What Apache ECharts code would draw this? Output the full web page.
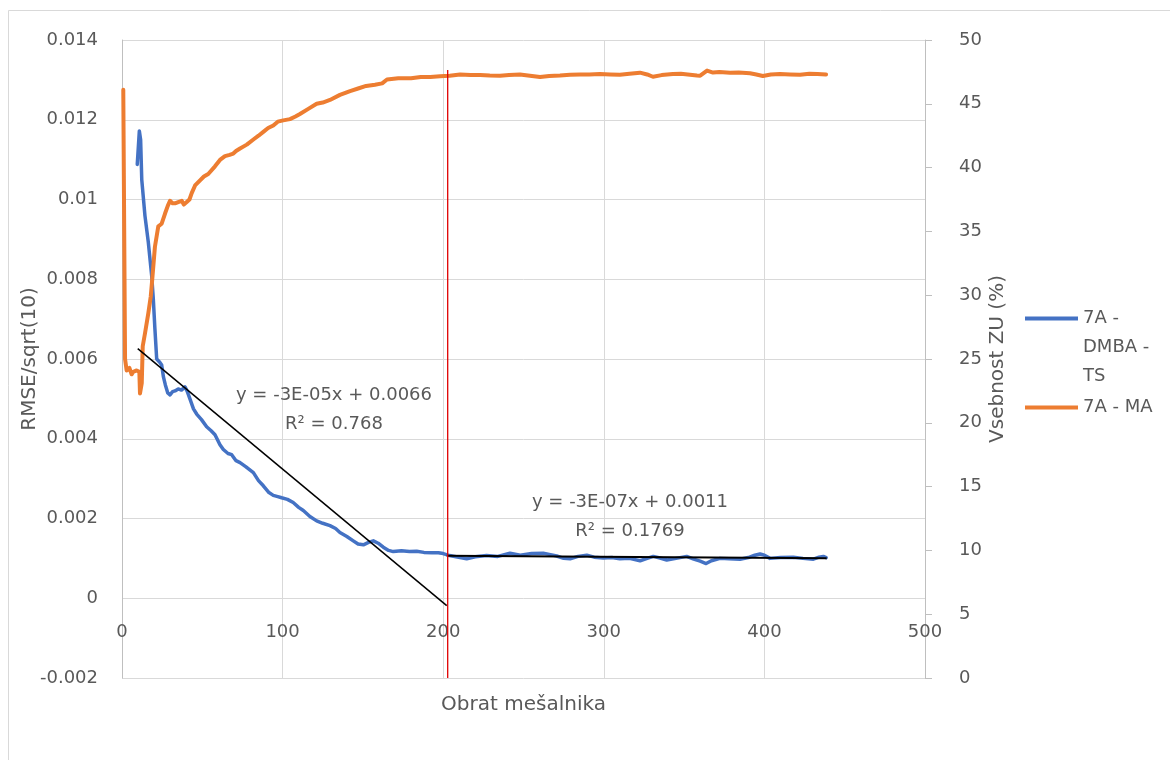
<!DOCTYPE html>
<html>
<head>
<meta charset="utf-8">
<script src="https://cdn.jsdelivr.net/npm/echarts@6/dist/echarts.min.js"></script>
<style>
  html, body { margin: 0; padding: 0; background: #fff; overflow: hidden; }
  #chart { width: 1170px; height: 760px; }
</style>
</head>
<body>
<div id="chart"></div>
<script>
// 7A - DMBA - TS : RMSE/sqrt(10) against mixer revolutions (left axis)
const dmbaX = [9.5, 10.8, 11.6, 12.3, 14.3, 16.4, 18.5, 19.5, 20.5, 21.6, 23.5, 24.7, 25.8, 27.0, 28.5, 29.9,
  31.5, 33.0, 35.0, 37.0, 39.2, 40.5, 42.3, 44.5, 46.5, 49.5, 52.7, 55.5, 57.9, 61.0, 63.1, 66.0, 68.3,
  71.0, 73.5, 77.0, 81.8, 85.0, 88.0, 91.5, 94.2, 97.0, 99.4, 103.0, 106.6, 110.0, 112.9, 117.0, 121.2,
  125.0, 129.5, 133.0, 135.7, 140.0, 144.0, 147.0, 150.3, 153.5, 156.5, 159.5, 162.7, 166.0, 168.9,
  174.0, 179.0, 183.5, 188.0, 193.0, 197.0, 200.0, 203.0, 208.0, 214.6, 220.0, 227.0, 234.0, 241.6,
  248.0, 255.0, 262.3, 266.0, 270.7, 275.0, 279.0, 284.0, 289.4, 294.0, 299.7, 305.0, 310.0, 316.0,
  322.6, 327.0, 330.8, 335.0, 339.2, 345.0, 351.6, 356.0, 360.0, 363.7, 367.0, 372.4, 378.0, 384.8,
  390.0, 394.0, 397.3, 400.0, 403.5, 410.0, 418.0, 424.0, 430.5, 434.0, 436.7, 438.5];
const dmbaY = [0.01088, 0.01172, 0.01150, 0.01050, 0.00959, 0.00892, 0.00808, 0.00750, 0.00675, 0.00600,
  0.00592, 0.00585, 0.00555, 0.00535, 0.00515, 0.00510, 0.00518, 0.00520, 0.00525, 0.00522, 0.00530,
  0.00520, 0.00500, 0.00475, 0.00462, 0.00448, 0.00430, 0.00420, 0.00410, 0.00385, 0.00373, 0.00363,
  0.00360, 0.00345, 0.00340, 0.00330, 0.00315, 0.00295, 0.00282, 0.00265, 0.00258, 0.00255, 0.00252,
  0.00248, 0.00240, 0.00228, 0.00220, 0.00205, 0.00194, 0.00188, 0.00182, 0.00175, 0.00165, 0.00155,
  0.00144, 0.00136, 0.00134, 0.00140, 0.00144, 0.00138, 0.00128, 0.00120, 0.00117, 0.00119, 0.00117,
  0.00118, 0.00115, 0.00114, 0.00114, 0.00112, 0.00108, 0.00104, 0.00099, 0.00104, 0.00107, 0.00105,
  0.00113, 0.00108, 0.00112, 0.00113, 0.00110, 0.00106, 0.00100, 0.00099, 0.00105, 0.00108, 0.00103,
  0.00101, 0.00102, 0.00099, 0.00100, 0.00094, 0.00100, 0.00105, 0.00101, 0.00096, 0.00100, 0.00105,
  0.00098, 0.00093, 0.00087, 0.00094, 0.00100, 0.00099, 0.00098, 0.00102, 0.00108, 0.00111, 0.00108,
  0.00100, 0.00102, 0.00103, 0.00100, 0.00098, 0.00103, 0.00105, 0.00102];

// 7A - MA : ZU content in % (right axis)
const maX = [0.8, 1.9, 2.9, 4.6, 6.0, 7.0, 9.1, 10.8, 11.2, 12.3, 12.9, 14.3, 16.4, 17.9, 19.0, 20.5, 22.6,
  24.7, 26.8, 28.5, 29.9, 31.5, 33.0, 35.0, 37.2, 38.5, 40.3, 42.0, 43.4, 45.5, 48.6, 51.0, 53.7, 57.9,
  61.0, 64.1, 67.0, 69.3, 71.0, 73.5, 77.7, 81.8, 85.0, 88.0, 91.0, 94.2, 97.0, 100.4, 104.6, 108.0,
  110.8, 116.0, 121.2, 125.0, 129.5, 135.7, 142.0, 147.0, 152.0, 157.5, 162.0, 165.0, 172.0, 180.0,
  186.0, 192.0, 198.0, 204.0, 210.5, 217.0, 223.0, 229.0, 235.4, 241.0, 247.8, 254.0, 260.3, 266.0,
  272.7, 279.0, 285.2, 291.0, 297.6, 304.0, 310.0, 316.0, 322.5, 327.0, 330.6, 336.0, 343.0, 348.0,
  353.7, 358.0, 360.0, 364.3, 368.0, 372.0, 378.6, 384.0, 391.0, 395.0, 399.0, 404.0, 409.7, 416.0,
  422.2, 428.0, 433.0, 438.4];
const maY = [46.1, 25.0, 24.1, 24.3, 23.8, 24.0, 24.1, 24.0, 22.3, 23.1, 26.0, 27.0, 28.6, 29.9, 31.5,
  33.8, 35.4, 35.6, 36.4, 37.0, 37.4, 37.2, 37.2, 37.3, 37.4, 37.1, 37.3, 37.5, 38.0, 38.6, 39.0, 39.3,
  39.5, 40.1, 40.6, 40.9, 41.0, 41.1, 41.3, 41.5, 41.8, 42.2, 42.5, 42.8, 43.1, 43.3, 43.6, 43.7, 43.8,
  44.0, 44.2, 44.6, 45.0, 45.1, 45.3, 45.7, 46.0, 46.2, 46.4, 46.5, 46.6, 46.9, 47.0, 47.0, 47.1, 47.1,
  47.15, 47.2, 47.3, 47.25, 47.26, 47.22, 47.2, 47.25, 47.3, 47.2, 47.1, 47.18, 47.22, 47.28, 47.3,
  47.3, 47.33, 47.3, 47.28, 47.35, 47.44, 47.3, 47.12, 47.25, 47.33, 47.35, 47.28, 47.22, 47.2, 47.6,
  47.45, 47.5, 47.44, 47.45, 47.4, 47.3, 47.18, 47.3, 47.33, 47.3, 47.28, 47.36, 47.33, 47.3];

// Linear trendlines: [slope, intercept], fitted x-range, R²
const trendSlope = [-3.35e-5, -2.75e-7];
const trendIntercept = [0.00659, 0.001123];
const trendFrom = [9.8, 202.2];
const trendTo = [202.2, 438.8];
const trendR2 = ['0.768', '0.1769'];
// where each trendline label is centred (data coordinates, left axis)
const trendLabelAt = [[132, 0.00473], [316.3, 0.002037]];

// vertical marker at the break between the two regimes (right axis units)
const markerX = 202.8;
const markerY = [0, 47.65];

// axis ticks
const xTicks = { min: 0, max: 500, step: 100 };
const leftTicks = { min: -0.002, max: 0.014, step: 0.002 };
const rightTicks = { min: 0, max: 50, step: 5 };

const FONT = 'DejaVu Sans';
const TXT = '#595959';
const GRID = '#d9d9d9';
const AXIS = '#bfbfbf';

const zip = (xs, ys) => xs.map((x, i) => [x, ys[i]]);

function excelExp(v) {
  let e = Math.floor(Math.log10(Math.abs(v)));
  let m = Math.round(v / Math.pow(10, e));
  if (Math.abs(m) >= 10) { m = m / 10; e += 1; }
  return m + 'E' + (e < 0 ? '-' : '+') + String(Math.abs(e)).padStart(2, '0');
}
function equationText(i) {
  const b = Number(trendIntercept[i].toPrecision(2));
  return 'y = ' + excelExp(trendSlope[i]) + 'x + ' + b + '\nR² = ' + trendR2[i];
}
function trendData(i) {
  return [trendFrom[i], trendTo[i]].map(x => [x, trendSlope[i] * x + trendIntercept[i]]);
}

const chart = echarts.init(document.getElementById('chart'), null, { renderer: 'canvas' });

const option = {
  animation: false,
  backgroundColor: '#ffffff',
  textStyle: { fontFamily: FONT },
  grid: { left: 122, right: 245, top: 40, bottom: 82, containLabel: false, outerBoundsMode: 'none' },
  legend: {
    orient: 'vertical',
    left: 1020,
    top: 241,
    icon: 'rect',
    itemWidth: 53,
    itemHeight: 4,
    itemGap: 2,
    selectedMode: false,
    data: ['7A - DMBA - TS', '7A - MA'],
    formatter: name => name === '7A - DMBA - TS' ? '\n\n7A -\nDMBA -\nTS' : name,
    textStyle: { color: TXT, fontSize: 18, lineHeight: 29, fontFamily: FONT }
  },
  xAxis: {
    type: 'value',
    min: xTicks.min, max: xTicks.max, interval: xTicks.step,
    name: 'Obrat mešalnika',
    nameLocation: 'middle',
    nameGap: 17,
    nameMoveOverlap: false,
    nameTextStyle: { color: TXT, fontSize: 20, fontFamily: FONT },
    axisLine: { show: false, onZero: false },
    axisTick: { show: false },
    // tick labels sit just under the zero line, inside the plot
    axisLabel: { inside: true, color: TXT, fontSize: 18, margin: 37, showMinLabel: true, showMaxLabel: true, fontFamily: FONT },
    splitLine: { show: true, lineStyle: { color: GRID, width: 1 } }
  },
  yAxis: [
    {
      type: 'value',
      min: leftTicks.min, max: leftTicks.max, interval: leftTicks.step,
      name: 'RMSE/sqrt(10)',
      nameLocation: 'middle',
      nameRotate: 90,
      nameGap: 82,
      nameMoveOverlap: false,
      nameTextStyle: { color: TXT, fontSize: 20, fontFamily: FONT },
      axisLine: { show: true, onZero: false, lineStyle: { color: AXIS, width: 1 } },
      axisTick: { show: false },
      axisLabel: { color: TXT, fontSize: 18, margin: 24, fontFamily: FONT },
      splitLine: { show: true, lineStyle: { color: GRID, width: 1 } }
    },
    {
      type: 'value',
      position: 'right',
      min: rightTicks.min, max: rightTicks.max, interval: rightTicks.step,
      name: 'Vsebnost ZU (%)',
      nameLocation: 'middle',
      nameRotate: 90,
      nameGap: 63,
      nameMoveOverlap: false,
      nameTextStyle: { color: TXT, fontSize: 20, fontFamily: FONT },
      axisLine: { show: true, onZero: false, lineStyle: { color: AXIS, width: 1 } },
      axisTick: { show: true, inside: false, length: 7, lineStyle: { color: AXIS } },
      axisLabel: { color: TXT, fontSize: 18, margin: 34, fontFamily: FONT },
      splitLine: { show: false }
    }
  ],
  series: [
    {
      name: '7A - DMBA - TS',
      type: 'line',
      yAxisIndex: 0,
      data: zip(dmbaX, dmbaY),
      symbol: 'none',
      color: '#4472c4',
      lineStyle: { color: '#4472c4', width: 3.5, join: 'round', cap: 'round' },
      z: 3
    },
    {
      name: '7A - MA',
      type: 'line',
      yAxisIndex: 1,
      data: zip(maX, maY),
      symbol: 'none',
      color: '#ed7d31',
      lineStyle: { color: '#ed7d31', width: 4, join: 'round', cap: 'round' },
      z: 4
    },
    {
      name: 'trend-1',
      type: 'line',
      yAxisIndex: 0,
      data: trendData(0),
      symbol: 'none',
      lineStyle: { color: '#000000', width: 1.5 },
      z: 5
    },
    {
      name: 'trend-2',
      type: 'line',
      yAxisIndex: 0,
      data: trendData(1),
      symbol: 'none',
      lineStyle: { color: '#000000', width: 2 },
      z: 5
    },
    {
      name: 'marker',
      type: 'line',
      yAxisIndex: 1,
      data: markerY.map(v => [markerX, v]),
      symbol: 'none',
      lineStyle: { color: '#e00000', width: 1.3 },
      z: 6
    }
  ]
};

chart.setOption(option);

// Trendline equations, placed through the chart's own coordinate system
const labels = trendLabelAt.map((p, i) => {
  const px = chart.convertToPixel({ xAxisIndex: 0, yAxisIndex: 0 }, p);
  return {
    type: 'text',
    x: px[0], y: px[1],
    z: 10,
    style: {
      text: equationText(i),
      fill: TXT,
      font: '18px "' + FONT + '"',
      lineHeight: 29,
      align: 'center',
      verticalAlign: 'middle'
    }
  };
});

chart.setOption({
  graphic: [
    {
      // outer chart-area frame (top and left edges fall inside the page)
      type: 'polyline',
      shape: { points: [[8.5, 800], [8.5, 10.5], [1300, 10.5]] },
      style: { fill: 'none', stroke: '#d9d9d9', lineWidth: 1 },
      silent: true,
      z: -1
    }
  ].concat(labels)
});
</script>
</body>
</html>
